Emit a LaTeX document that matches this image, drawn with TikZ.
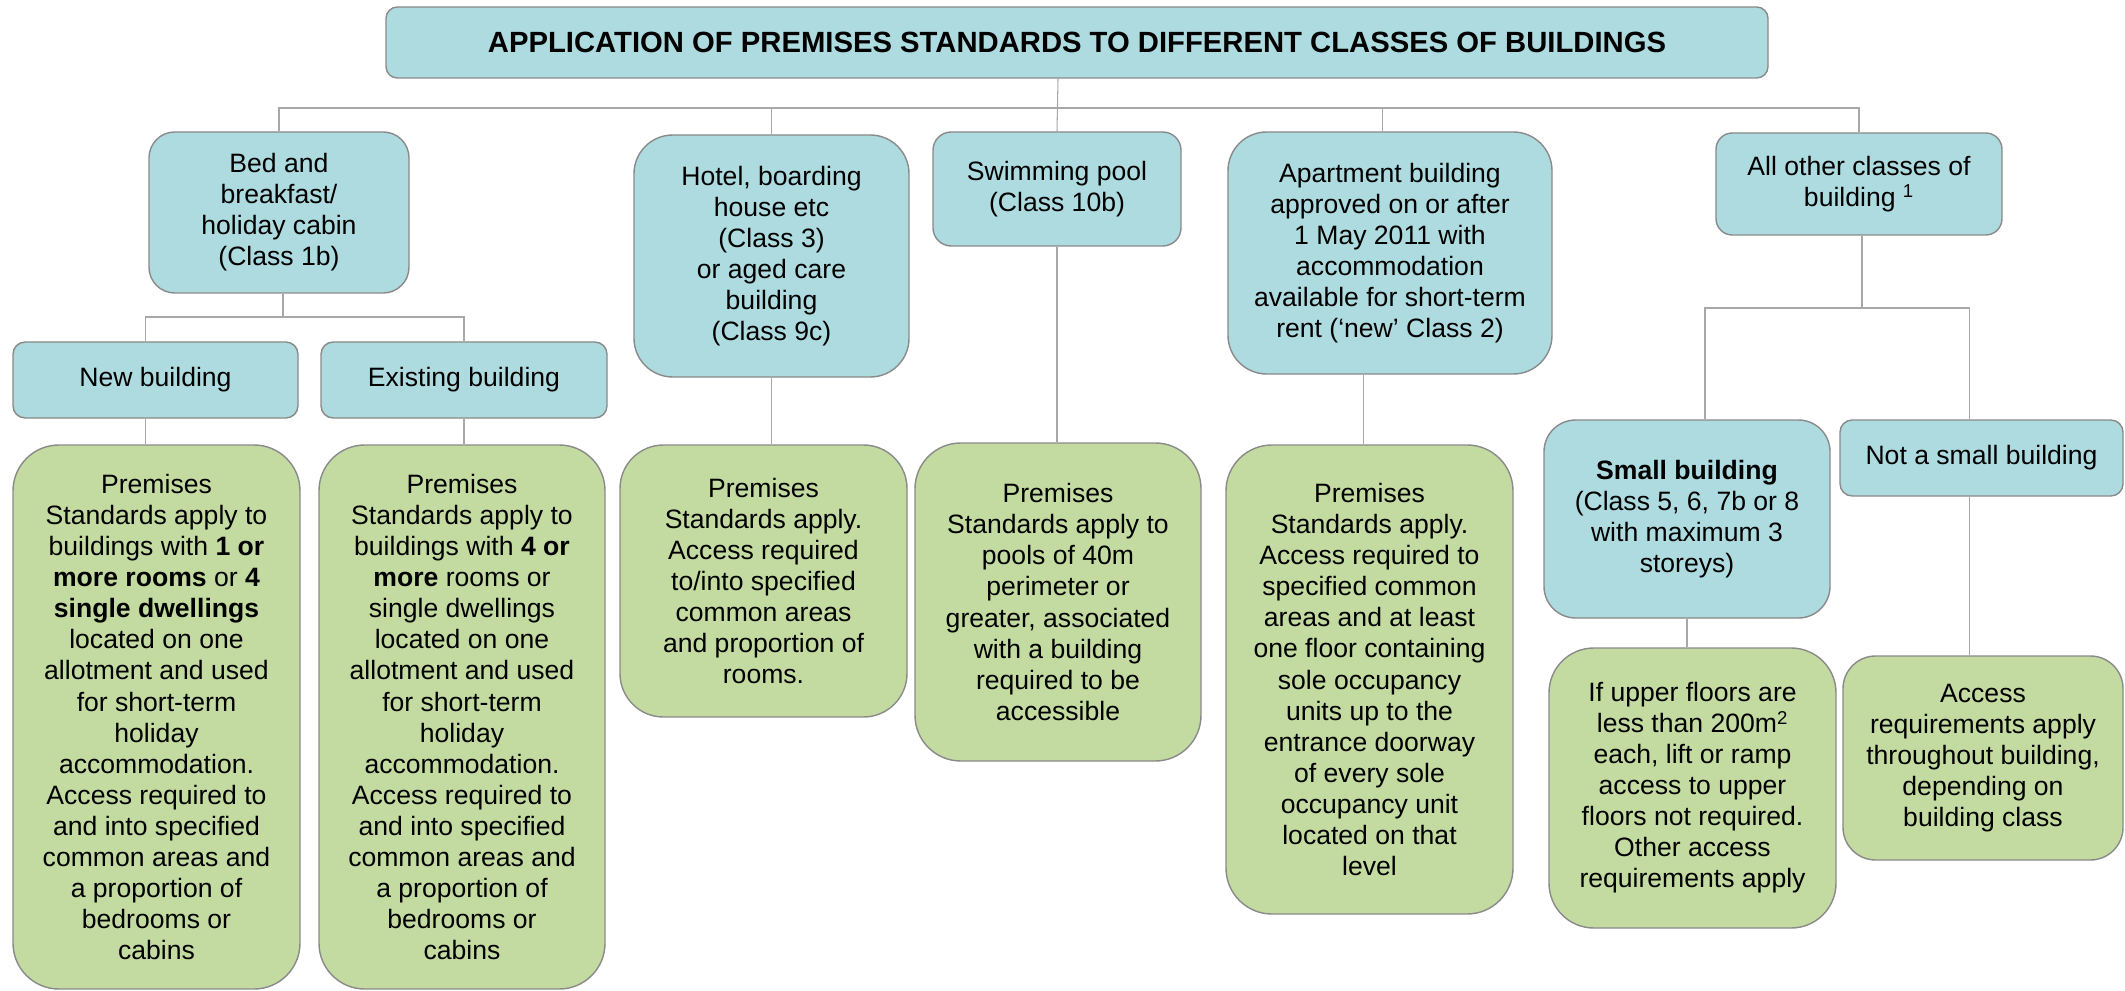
\documentclass[tikz,border=0pt]{standalone}
\usepackage{fontspec}
\setmainfont{Liberation Sans}
\usepackage{tikz}

\definecolor{boxblue}{HTML}{ADDBDF}
\definecolor{boxgreen}{HTML}{C3DBA0}
\definecolor{boxedge}{HTML}{8A8A8A}
\definecolor{linkgray}{HTML}{A8A8A8}

\begin{document}
\begin{tikzpicture}
[
    x=0.025cm, y=-0.025cm,
    size/.style 2 args={minimum width=#1*0.025cm, minimum height=#2*0.025cm,
        rounded corners={0.16*min(#1,#2)*0.025cm}},
    cell/.style={draw=boxedge, line width=1pt, inner sep=0pt, align=center,
        font=\fontsize{18.9}{22.05}\selectfont},
    bluebox/.style={cell, fill=boxblue},
    greenbox/.style={cell, fill=boxgreen},
    link/.style={draw=linkgray, line width=0.75pt},
]
\useasboundingbox (0,0) rectangle (2125,991);

% top row
\node [bluebox, size={1382}{71}, font=\fontsize{20.8}{24}\selectfont\bfseries] (title) at (1077,42.5)
{APPLICATION OF PREMISES STANDARDS TO DIFFERENT CLASSES OF BUILDINGS};

\node [bluebox, size={260}{161}] (bnb) at (279,212.5)
{Bed and\\ breakfast/\\ holiday cabin\\ (Class 1b)};
\node [bluebox, size={275}{242}] (hotel) at (771.5,256)
{Hotel, boarding\\ house etc\\ (Class 3)\\ or aged care\\ building\\ (Class 9c)};
\node [bluebox, size={248}{114}] (pool) at (1057,189)
{Swimming pool\\ (Class 10b)};
\node [bluebox, size={324}{242}] (apt) at (1390,253)
{Apartment building\\ approved on or after\\ 1 May 2011 with\\ accommodation\\ available for short-term\\ rent (‘new’ Class 2)};
\node [bluebox, size={286}{102}] (other) at (1859,184)
{All other classes of\\ building \textsuperscript{1}};

% second row
\node [bluebox, size={285}{76}] (newb) at (155.5,380) {New building};
\node [bluebox, size={286}{76}] (oldb) at (464,380) {Existing building};
\node [bluebox, size={286}{198}] (small) at (1687,519)
{\textbf{Small building}\\ (Class 5, 6, 7b or 8\\ with maximum 3\\ storeys)};
\node [bluebox, size={283}{76}] (notsmall) at (1981.5,458) {Not a small building};

% outcomes
\node [greenbox, size={287}{544}] (newg) at (156.5,717)
{Premises\\ Standards apply to\\ buildings with \textbf{1 or}\\ \textbf{more rooms} or \textbf{4}\\
 \textbf{single dwellings}\\ located on one\\ allotment and used\\ for short-term\\ holiday\\
 accommodation.\\ Access required to\\ and into specified\\ common areas and\\ a proportion of\\
 bedrooms or\\ cabins};
\node [greenbox, size={286}{544}] (oldg) at (462,717)
{Premises\\ Standards apply to\\ buildings with \textbf{4 or}\\ \textbf{more} rooms or\\
 single dwellings\\ located on one\\ allotment and used\\ for short-term\\ holiday\\
 accommodation.\\ Access required to\\ and into specified\\ common areas and\\ a proportion of\\
 bedrooms or\\ cabins};
\node [greenbox, size={287}{272}] (hotelg) at (763.5,581)
{Premises\\ Standards apply.\\ Access required\\ to/into specified\\ common areas\\ and proportion of\\ rooms.};
\node [greenbox, size={286}{318}] (poolg) at (1058,602)
{Premises\\ Standards apply to\\ pools of 40m\\ perimeter or\\ greater, associated\\ with a building\\ required to be\\ accessible};
\node [greenbox, size={287}{469}] (aptg) at (1369.5,679.5)
{Premises\\ Standards apply.\\ Access required to\\ specified common\\ areas and at least\\ one floor containing\\
 sole occupancy\\ units up to the\\ entrance doorway\\ of every sole\\ occupancy unit\\ located on that\\ level};
\node [greenbox, size={287}{280}] (smallg) at (1692.5,788)
{If upper floors are\\ less than 200m\textsuperscript{2}\\ each, lift or ramp\\ access to upper\\ floors not required.\\ Other access\\ requirements apply};
\node [greenbox, size={280}{204}] (notsmallg) at (1983,758)
{Access\\ requirements apply\\ throughout building,\\ depending on\\ building class};

% connectors
\coordinate (bar) at (1058,108);
\coordinate (bnbfork) at (283,317);
\coordinate (otherfork) at (1862,308);

\draw [link] (bnb.north) |- (bar) -| (other.north);
\draw [link] (title.south -| bar) -- (pool.north);
\draw [link] (hotel.north) -- (hotel.north |- bar);
\draw [link] ([xshift=-0.18cm]apt.north) -- ([xshift=-0.18cm]apt.north |- bar);

\draw [link] (bnb.south -| bnbfork) -- (bnbfork);
\draw [link] ([xshift=-0.25cm]newb.north) |- (bnbfork) -| (oldb.north);
\draw [link] ([xshift=-0.25cm]newb.south) -- ([xshift=-0.25cm]newb.south |- newg.north);
\draw [link] (oldb.south) -- (oldb.south |- oldg.north);

\draw [link] (hotel.south) -- (hotel.south |- hotelg.north);
\draw [link] (pool.south) -- (pool.south |- poolg.north);
\draw [link] ([xshift=-0.15cm]aptg.north) -- ([xshift=-0.15cm]aptg.north |- apt.south);

\draw [link] (other.south -| otherfork) -- (otherfork);
\draw [link] ([xshift=0.45cm]small.north) |- (otherfork) -| ([xshift=-0.29cm]notsmall.north);
\draw [link] (small.south) -- (small.south |- smallg.north);
\draw [link] ([xshift=-0.29cm]notsmall.south) -- ([xshift=-0.29cm]notsmall.south |- notsmallg.north);
\end{tikzpicture}
\end{document}
